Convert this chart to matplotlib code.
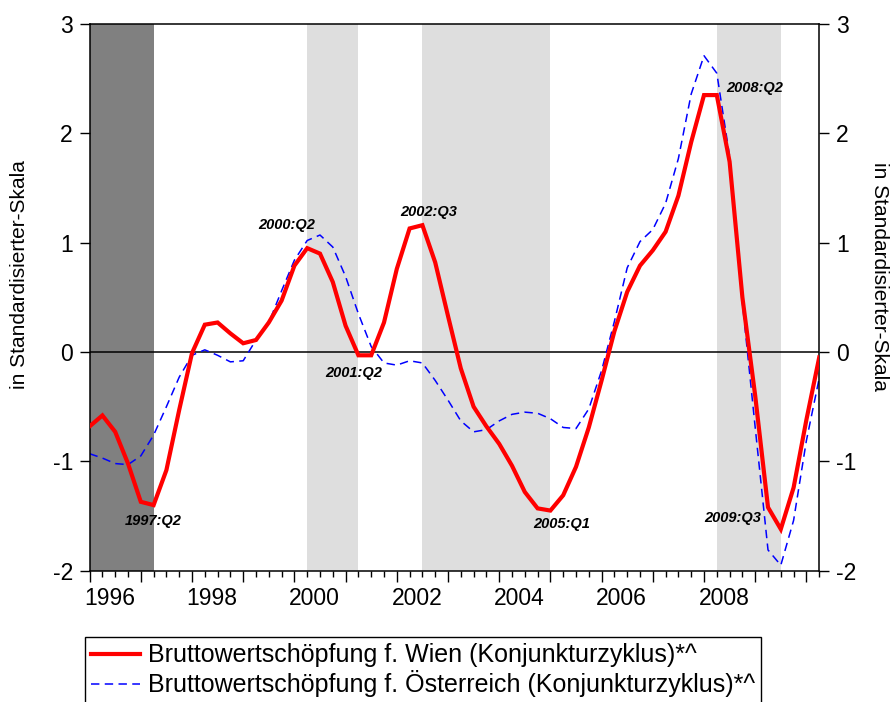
import numpy as np
import matplotlib
matplotlib.use("Agg")
import matplotlib.pyplot as plt
import matplotlib.transforms as mtransforms
from matplotlib.ticker import MultipleLocator

plt.rcParams["font.family"] = ["Liberation Sans", "DejaVu Sans"]
plt.rcParams["axes.unicode_minus"] = False

# quarterly data, 1996:Q1 .. 2010:Q2
start_year = 1996
wien = [-0.68, -0.58, -0.73, -1.02, -1.37, -1.40, -1.08, -0.53, -0.01, 0.25,
        0.27, 0.17, 0.08, 0.11, 0.27, 0.47, 0.79, 0.95, 0.90, 0.64,
        0.24, -0.03, -0.03, 0.27, 0.76, 1.13, 1.16, 0.82, 0.33, -0.15,
        -0.50, -0.68, -0.84, -1.04, -1.28, -1.43, -1.45, -1.31, -1.05, -0.69,
        -0.26, 0.19, 0.55, 0.79, 0.93, 1.10, 1.43, 1.92, 2.35, 2.35,
        1.74, 0.50, -0.40, -1.42, -1.62, -1.24, -0.62, -0.05]
oesterreich = [-0.93, -0.97, -1.02, -1.03, -0.95, -0.76, -0.50, -0.23, -0.03, 0.02,
               -0.03, -0.09, -0.08, 0.11, 0.27, 0.56, 0.84, 1.02, 1.07, 0.96,
               0.69, 0.35, 0.05, -0.10, -0.12, -0.08, -0.10, -0.26, -0.44, -0.63,
               -0.73, -0.71, -0.63, -0.57, -0.55, -0.56, -0.61, -0.69, -0.70, -0.52,
               -0.17, 0.28, 0.77, 1.01, 1.12, 1.36, 1.77, 2.36, 2.71, 2.55,
               1.79, 0.45, -0.69, -1.81, -1.95, -1.54, -0.81, -0.24]

label_wien = "Bruttowertschöpfung f. Wien (Konjunkturzyklus)*^"
label_oe = "Bruttowertschöpfung f. Österreich (Konjunkturzyklus)*^"

# shaded phases (quarter index from, to)
dark_phase = (0, 5)
light_phases = [(17, 21), (26, 36), (49, 54)]

# turning point labels: quarter index, text, offset in points
turning_points = [(5, "1997:Q2", (0, -11.5)),
                  (17, "2000:Q2", (-15, 17)),
                  (21, "2001:Q2", (-3.5, -12.6)),
                  (26, "2002:Q3", (4.8, 9.4)),
                  (36, "2005:Q1", (8, -10)),
                  (49, "2008:Q2", (27, 5.4)),
                  (54, "2009:Q3", (-35, 7.8))]

t = start_year + np.arange(len(wien)) / 4.0

fig = plt.figure(figsize=(8.92, 7.02), dpi=100)
ax = fig.add_axes([89.6 / 892, 1 - 570.7 / 702, (819.2 - 89.6) / 892, (570.7 - 24) / 702])

ax.axvspan(t[dark_phase[0]], t[dark_phase[1]], color="#808080", lw=0, zorder=0)
for a, b in light_phases:
    ax.axvspan(t[a], t[b], color="#dedede", lw=0, zorder=0)

ax.axhline(0, color="black", lw=1.1, zorder=1)

l1, = ax.plot(t, wien, color="#ff0000", lw=3.0, zorder=3, solid_joinstyle="miter")
l2, = ax.plot(t, oesterreich, color="#0000ff", lw=1.1, zorder=2, dashes=(5.5, 3.5))

for i, txt, off in turning_points:
    ax.annotate(txt, xy=(t[i], wien[i]), xytext=off, textcoords="offset points",
                ha="center", va="center", fontsize=10.5, fontweight="bold",
                fontstyle="italic")

ax.set_xlim(t[0], t[-1])
ax.set_ylim(-2, 3)

years = list(range(1996, 2011))
ax.set_xticks(years)
ax.set_xticklabels([str(y) if y % 2 == 0 and y < 2010 else "" for y in years])
ax.xaxis.set_minor_locator(MultipleLocator(0.25))
ax.tick_params(axis="x", which="major", direction="out", length=8, width=1, labelsize=16.5, pad=4)
ax.tick_params(axis="x", which="minor", direction="out", length=4.5, width=1)
offset = mtransforms.ScaledTranslation(0.2, 0, fig.dpi_scale_trans)
for lab in ax.get_xticklabels():
    lab.set_transform(lab.get_transform() + offset)

ax.set_yticks([-2, -1, 0, 1, 2, 3])
ax.tick_params(axis="y", which="both", direction="out", length=7, width=1,
               labelsize=16.5, left=True, right=True, labelleft=True, labelright=True, pad=5)

for s in ax.spines.values():
    s.set_linewidth(1.1)
    s.set_color("black")

fig.text(20 / 892, 1 - 275 / 702, "in Standardisierter-Skala", rotation=90,
         ha="center", va="center", fontsize=15)
fig.text(880 / 892, 1 - 276 / 702, "in Standardisierter-Skala", rotation=270,
         ha="center", va="center", fontsize=15)

leg = ax.legend([l1, l2], [label_wien, label_oe], loc="upper left",
                bbox_to_anchor=(85 / 892, 1 - 637 / 702), bbox_transform=fig.transFigure,
                fontsize=18, frameon=True, fancybox=False, edgecolor="black",
                framealpha=1, borderaxespad=0, borderpad=0.25, handlelength=1.95,
                handletextpad=0.3, labelspacing=0.12)
leg.get_frame().set_linewidth(1.0)

fig.savefig("out.png", dpi=100)
